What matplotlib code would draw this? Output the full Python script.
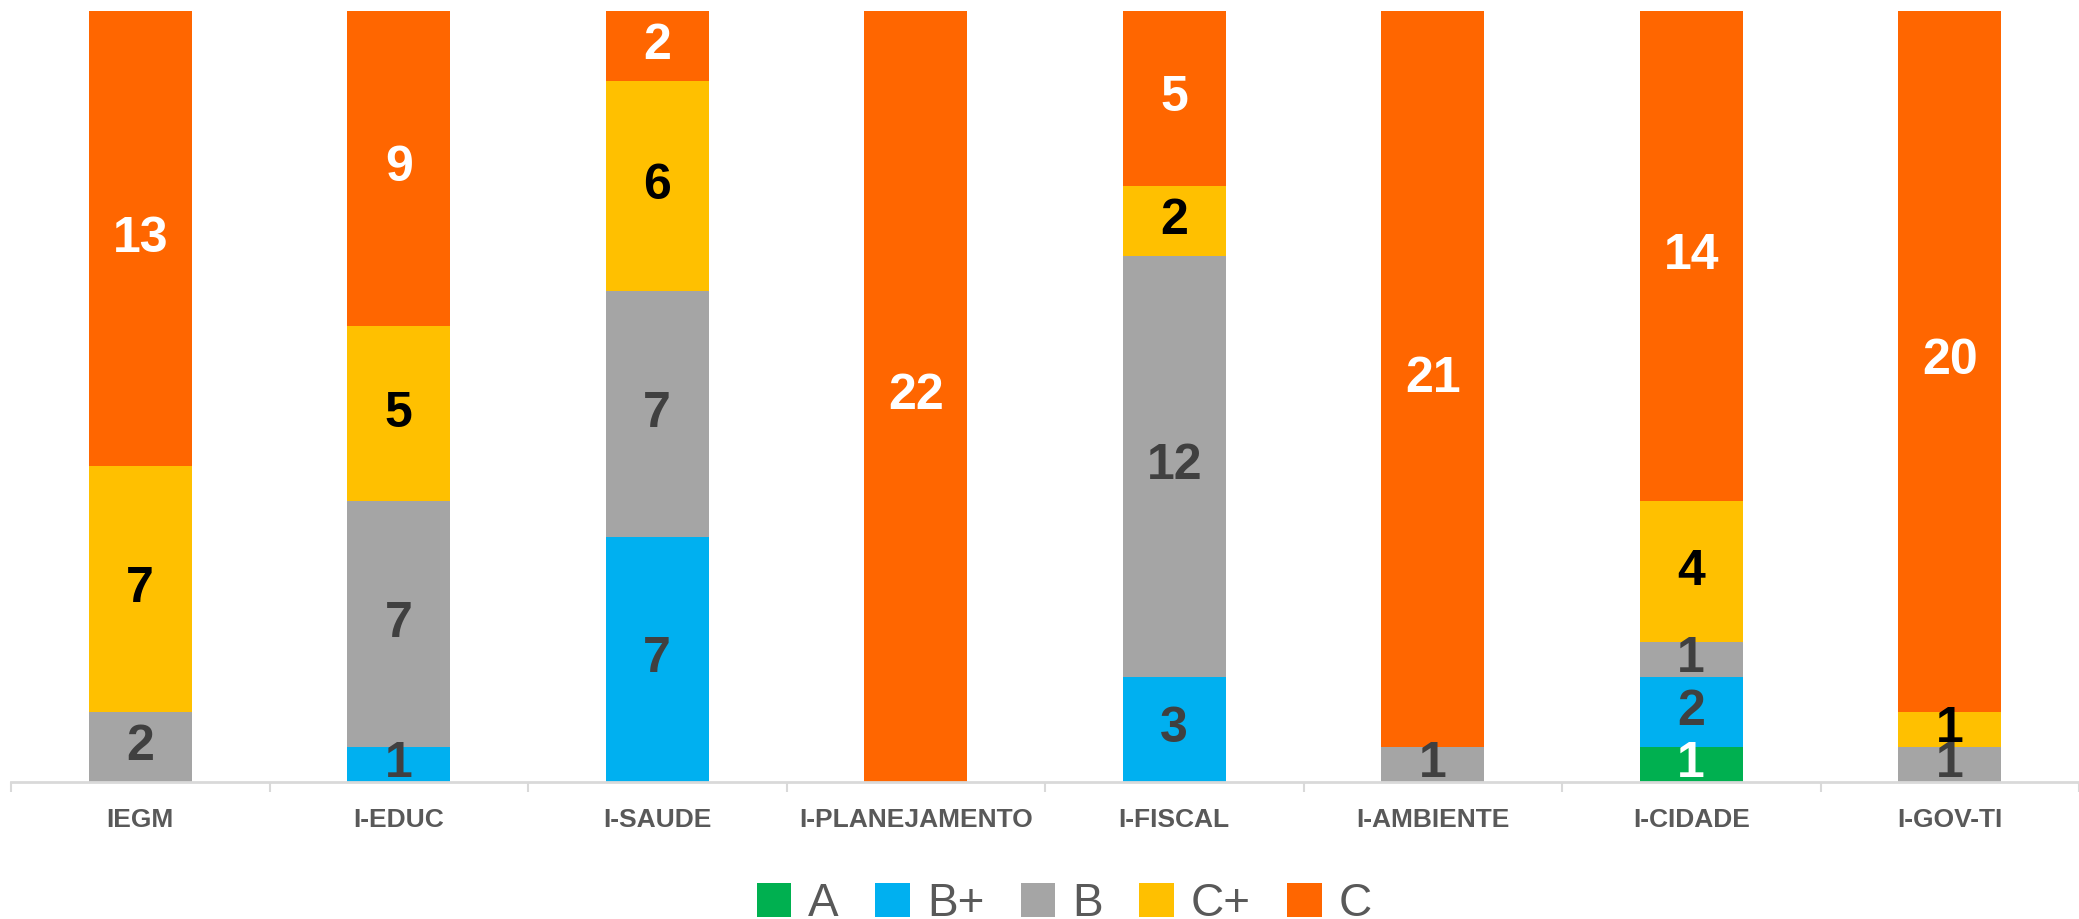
import numpy as np
import matplotlib
matplotlib.use("Agg")
import matplotlib.pyplot as plt
from matplotlib.patches import Patch

categories = ["IEGM", "I-EDUC", "I-SAUDE", "I-PLANEJAMENTO",
              "I-FISCAL", "I-AMBIENTE", "I-CIDADE", "I-GOV-TI"]
grades     = ["A", "B+", "B", "C+", "C"]

val_A  = [0, 0, 0, 0, 0, 0, 1, 0]
val_Bp = [0, 1, 7, 0, 3, 0, 2, 0]
val_B  = [2, 7, 7, 0, 12, 1, 1, 1]
val_Cp = [7, 5, 6, 0, 2, 0, 4, 1]
val_C  = [13, 9, 2, 22, 5, 21, 14, 20]

series     = [val_A, val_Bp, val_B, val_Cp, val_C]
colors     = ["#00B050", "#00B0F0", "#A5A5A5", "#FFC000", "#FF6600"]
lbl_colors = ["#FFFFFF", "#404040", "#404040", "#000000", "#FFFFFF"]

plt.rcParams['font.family'] = ['Liberation Sans', 'DejaVu Sans']

W, H = 2079, 919
fig = plt.figure(figsize=(W / 100, H / 100), dpi=100)
left = 11.0 / W
ax = fig.add_axes([left, 137 / H, 1 - left, (782 - 10.6) / H])

x = np.arange(len(categories))
bottom = np.zeros(len(categories))
for vals, col, lcol in zip(series, colors, lbl_colors):
    vals = np.array(vals, dtype=float)
    ax.bar(x, vals, 0.40, bottom=bottom, color=col, zorder=2)
    for xi, v, b in zip(x, vals, bottom):
        if v > 0:
            ax.text(xi, b + v / 2, str(int(v)), ha="center", va="center",
                    fontsize=36, fontweight="bold", color=lcol, zorder=3)
    bottom += vals

pitch = 260.9
ax.set_xlim(-0.5, -0.5 + (W - 11.0) / pitch)
ax.set_ylim(0, 22)

for s in ["top", "right", "left"]:
    ax.spines[s].set_visible(False)
ax.spines["bottom"].set_color("#D9D9D9")
ax.spines["bottom"].set_linewidth(2)
ax.spines["bottom"].set_zorder(4)

ax.set_yticks([])
ax.set_xticks(x)
ax.set_xticklabels(categories, fontsize=19, fontweight="bold", color="#595959")
ax.tick_params(axis="x", which="major", length=0, pad=19)
ax.set_xticks(np.arange(len(categories) + 1) - 0.5, minor=True)
ax.tick_params(axis="x", which="minor", length=7, width=1.5, color="#D9D9D9")

handles = [Patch(facecolor=c, edgecolor="none") for c in colors]
fig.legend(handles, grades, loc="center", bbox_to_anchor=(0.512, 1 - 904 / H),
           ncol=5, frameon=False, fontsize=33, labelcolor="#595959",
           handlelength=0.75, handleheight=0.75, handletextpad=0.37,
           columnspacing=0.8, borderpad=0.0)

fig.savefig("out.png", dpi=100)
